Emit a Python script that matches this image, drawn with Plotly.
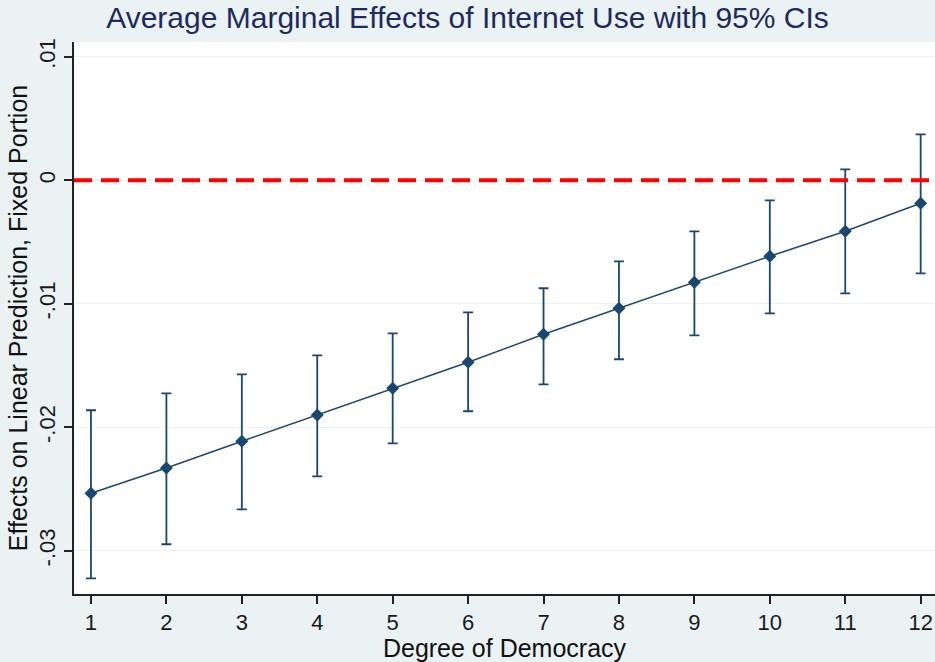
import plotly.graph_objects as go

democracy = [1, 2, 3, 4, 5, 6, 7, 8, 9, 10, 11, 12]
effect = [-0.02534, -0.0233, -0.02113, -0.0190, -0.01684, -0.01474, -0.01247, -0.01036, -0.00826, -0.00615, -0.00413, -0.00186]
ci_upper = [-0.01862, -0.01725, -0.01571, -0.01417, -0.01239, -0.01069, -0.00874, -0.00656, -0.00413, -0.00162, 0.00089, 0.00372]
ci_lower = [-0.03223, -0.02947, -0.02664, -0.02397, -0.02130, -0.01870, -0.01652, -0.01449, -0.01255, -0.01077, -0.00915, -0.00753]
y_ticks = [-0.03, -0.02, -0.01, 0, 0.01]
y_labels = ["-.03", "-.02", "-.01", "0", ".01"]

navy = "#1a476f"
font = "Liberation Sans, Arial, sans-serif"

fig = go.Figure()
fig.add_trace(go.Scatter(
    x=democracy, y=effect, mode="lines+markers",
    line=dict(color=navy, width=1.5),
    marker=dict(symbol="diamond", size=10, color=navy),
    error_y=dict(type="data", symmetric=False,
                 array=[u - e for u, e in zip(ci_upper, effect)],
                 arrayminus=[e - l for e, l in zip(effect, ci_lower)],
                 color=navy, thickness=1.8, width=5),
    showlegend=False,
))
fig.add_hline(y=0, line=dict(color="#ff0000", width=4, dash="18px,9px"), layer="above")

fig.update_layout(
    width=935, height=662,
    paper_bgcolor="#eaf2f3", plot_bgcolor="#ffffff",
    margin=dict(l=74, r=0, t=42, b=68),
    title=dict(text="Average Marginal Effects of Internet Use with 95% CIs",
               x=0.5, xanchor="center", y=0.973, yanchor="middle",
               font=dict(family=font, size=30, color="#1e2b5c")),
    font=dict(family=font),
)
fig.update_xaxes(
    range=[0.775, 12.19], tickvals=democracy, ticktext=[str(d) for d in democracy],
    showgrid=False, zeroline=False, showline=True, linecolor="#222222", linewidth=2,
    ticks="outside", ticklen=8, tickwidth=2, tickcolor="#222222",
    tickfont=dict(size=22, color="#1a1a1a"),
    title=dict(text="Degree of Democracy", font=dict(size=25, color="#111111"), standoff=0),
)
fig.update_yaxes(
    range=[-0.0335, 0.0112], tickvals=y_ticks, ticktext=y_labels, tickangle=-90,
    showgrid=True, gridcolor="#eaf2f3", gridwidth=1, zeroline=False,
    showline=True, linecolor="#222222", linewidth=2,
    ticks="outside", ticklen=8, tickwidth=2, tickcolor="#222222",
    tickfont=dict(size=22, color="#1a1a1a"),
    title=dict(text="Effects on Linear Prediction, Fixed Portion", font=dict(size=25, color="#111111"), standoff=0),
)

fig.write_html("out.html", config={"displayModeBar": False},
               post_script="document.body.style.margin='0';document.body.style.overflow='hidden';")
